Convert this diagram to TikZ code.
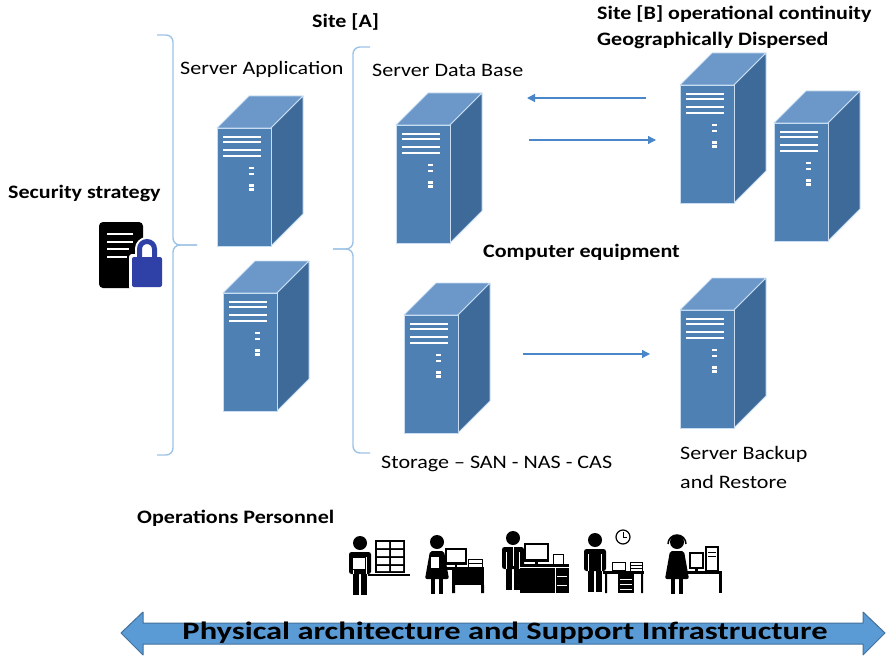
\documentclass[tikz,border=0pt]{standalone}
\usepackage{fontspec}
\setmainfont{Carlito}[FakeStretch=1.16]
\newfontfamily\bandfont{Carlito}[FakeStretch=1.3]
\usetikzlibrary{arrows.meta}
\definecolor{srvFront}{HTML}{4F80B4}
\definecolor{srvSide}{HTML}{3E6A99}
\definecolor{srvTop}{HTML}{6B98C9}
\definecolor{srvEdge}{HTML}{C8DDF1}
\definecolor{braceLine}{HTML}{9DC3E6}
\definecolor{flowLine}{HTML}{4A86C8}
\definecolor{lockBlue}{HTML}{2F40A6}
\definecolor{bandFill}{HTML}{5B9BD5}
\definecolor{bandLine}{HTML}{41719C}
\tikzset{
  archfig/.style={x=1pt, y=-1pt, >={Triangle[length=8pt,width=8pt]}},
  lbl/.style={font=\fontsize{19}{23}\selectfont, inner sep=0pt, anchor=base west},
  hdr/.style={lbl, font=\fontsize{19}{23}\selectfont\bfseries},
  grp/.style={draw=braceLine, line width=1.4pt, rounded corners=7pt},
  flow/.style={draw=flowLine, line width=1.2pt, ->},
  % Tower server, origin at the top left corner of the front face.
  server/.pic={
    \filldraw[fill=srvTop, draw=srvEdge, line width=0.8pt, line join=round]
      (0,0) -- (32,-32) -- (86,-32) -- (54,0) -- cycle;
    \filldraw[fill=srvSide, draw=srvEdge, line width=0.8pt, line join=round]
      (54,0) -- (86,-32) -- (86,86) -- (54,118) -- cycle;
    \filldraw[fill=srvFront, draw=srvEdge, line width=0.8pt] (0,0) rectangle (54,118);
    \draw[white, line width=1.3pt] (6,9) -- (44,9) (6,14) -- (44,14);
    \draw[white, line width=2pt] (6,22) -- (44,22) (6,28) -- (44,28);
    \draw[white, line width=1.3pt] (32,40) -- (37,40) (32,46) -- (37,46);
    \fill[white] (32,56) rectangle (37,63);
    \fill[srvFront] (32,59) rectangle (37,60);
  },
  % Pictogram people, origin at the centre of the head.
  man/.pic={
    \fill (0,0) circle (7);
    \fill[rounded corners=2.5pt] (-11,9) rectangle (11,31);
    \fill (-7,29) rectangle (-1,52);
    \fill (1,29) rectangle (7,52);
    \draw[white, line width=0.9pt] (-6.5,14) -- (-6.5,31) (6.5,14) -- (6.5,31);
  },
  woman/.pic={
    \fill (0,0) circle (7);
    \fill[rounded corners=2pt] (-7,9) -- (7,9) -- (12,37) -- (-12,37) -- cycle;
    \fill (-6,36) rectangle (-2,52);
    \fill (2,36) rectangle (6,52);
  },
}

\begin{document}
\begin{tikzpicture}[archfig]
  \useasboundingbox (0,0) rectangle (889,658);
  % headings and labels
  \node[hdr] (siteA) at (312,28) {Site [A]};
  \node[hdr] (siteB) at (597,20) {Site [B] operational continuity};
  \node[hdr] (siteBdisp) at (597,46) {Geographically Dispersed};
  \node[hdr] (secLbl) at (8,198) {Security strategy};
  \node[hdr] (equipLbl) at (483,257) {Computer equipment};
  \node[hdr] (staffLbl) at (137,523) {Operations Personnel};
  \node[lbl] (appLbl) at (180,75) {Server Application};
  \node[lbl] (dbLbl) at (372,77) {Server Data Base};
  \node[lbl] (storLbl) at (381,468) {Storage -- SAN - NAS - CAS};
  \node[lbl] (bkpLbl) at (680,459) {Server Backup};
  \node[lbl] (bkpLbl2) at (680,488) {and Restore};
  % servers
  \pic (appSrv1) at (217,128) {server};
  \pic (appSrv2) at (223,293) {server};
  \pic (dbSrv) at (396,125) {server};
  \pic (siteBSrv1) at (680,85) {server};
  \pic (siteBSrv2) at (774,123) {server};
  \pic (storSrv) at (404,315) {server};
  \pic (bkpSrv) at (680,310) {server};
  % braces
  \draw[grp] (157,35) -- (173,35) -- (173,245) -- (197,245);
  \draw[grp] (197,245) -- (173,245) -- (173,455) -- (157,455);
  \draw[grp] (370,47) -- (353,47) -- (353,249) -- (333,249);
  \draw[grp] (333,249) -- (353,249) -- (353,453) -- (370,453);
  % replication arrows
  \coordinate (dbIn) at (527,98);
  \coordinate (dbOut) at (529,140);
  \coordinate (siteBOut) at (646,98);
  \coordinate (siteBIn) at (656,140);
  \coordinate (storOut) at (523,354);
  \coordinate (bkpIn) at (650,354);
  \draw[flow] (siteBOut) -- (dbIn);
  \draw[flow] (dbOut) -- (siteBIn);
  \draw[flow] (storOut) -- (bkpIn);
  % document with padlock
  \fill[rounded corners=4pt] (99,222) rectangle (143,288);
  \draw[white, line width=2.2pt] (107,234) -- (133,234) (107,242) -- (133,242)
    (107,249) -- (129,249) (107,257) -- (127,257);
  \draw[white, line width=9pt] (139.5,258) -- (139.5,249) arc (180:360:7.5) -- (154.5,258);
  \fill[white, rounded corners=3pt] (129,254) rectangle (165,290);
  \draw[lockBlue, line width=5pt] (139.5,258) -- (139.5,249) arc (180:360:7.5) -- (154.5,258);
  \fill[lockBlue, rounded corners=2pt] (132,257) rectangle (162,287);
  % operations personnel
  \pic (clerk) at (360,543) {man};
  \filldraw[fill=white, line width=0.8pt] (352,557) rectangle (365,569);
  \fill (375,540) rectangle (405,573);
  \fill[white] (377,542) rectangle (389,548) (391,542) rectangle (403,548)
    (377,550) rectangle (389,556) (391,550) rectangle (403,556)
    (377,558) rectangle (389,564) (391,558) rectangle (403,564)
    (377,566) rectangle (389,571) (391,566) rectangle (403,571);
  \draw[line width=1.5pt] (368,575) -- (410,575);
  \pic (secretary) at (437,542) {woman};
  \filldraw[fill=white, line width=0.8pt] (430,556) rectangle (439,568);
  \fill (445,548) rectangle (467,565);
  \fill[white] (447,550) rectangle (465,562);
  \fill (455,565) rectangle (457,568);
  \fill (443,567) rectangle (484,570);
  \fill (452,570) rectangle (484,585);
  \fill (452,585) rectangle (455,593) (481,585) rectangle (484,593);
  \filldraw[fill=white, line width=0.8pt] (468,559) rectangle (482,567);
  \draw[line width=0.8pt] (468,563) -- (482,563);
  \pic (manager) at (513,538) {man};
  \draw[white, line width=1pt] (513,547) -- (513,566);
  \fill (524,543) rectangle (549,562);
  \fill[white] (526,545) rectangle (547,559);
  \fill (535,562) rectangle (538,565);
  \filldraw[fill=white, line width=0.8pt] (553,554) rectangle (563,564);
  \fill (520,564) rectangle (569,593);
  \draw[white, line width=0.8pt] (520,567) -- (569,567) (555,567) -- (555,593)
    (557,576) -- (567,576) (557,585) -- (567,585);
  \pic (officer) at (595,540) {man};
  \draw[line width=1.2pt] (623,537) circle (7);
  \draw[line width=1pt] (623,537) -- (623,532) (623,537) -- (627,537);
  \fill (603,571) rectangle (644,574);
  \fill (605,574) rectangle (607,593) (641,574) rectangle (643,593);
  \fill (618,574) rectangle (634,593);
  \draw[white, line width=0.8pt] (620,579) -- (632,579) (620,584) -- (632,584)
    (620,589) -- (632,589);
  \filldraw[fill=white, line width=1pt] (612,562) rectangle (625,570);
  \filldraw[fill=white, line width=0.8pt] (630,562) rectangle (642,571);
  \draw[line width=0.8pt] (630,565) -- (642,565) (630,568) -- (642,568);
  \pic (operator) at (677,542) {woman};
  \draw[line width=1.5pt] (668,544) arc (180:360:9);
  \fill (687,571) rectangle (722,574);
  \fill (719,574) rectangle (722,593);
  \filldraw[fill=white, line width=1.5pt] (690,553) rectangle (703,568);
  \fill (695,568) rectangle (698,571);
  \filldraw[fill=white, line width=1.5pt] (706,547) rectangle (718,571);
  \draw[line width=1pt] (708,552) -- (716,552) (708,556) -- (716,556);
  % support infrastructure band
  \filldraw[fill=bandFill, draw=bandLine, line width=1pt, line join=round]
    (121,633) -- (143,612) -- (143,623) -- (863,623) -- (863,612) -- (885,633)
    -- (863,655) -- (863,644) -- (143,644) -- (143,655) -- cycle;
  \node[font=\bandfont\fontsize{25}{29}\selectfont\bfseries, inner sep=0pt, anchor=base]
    (infraLbl) at (505,639) {Physical architecture and Support Infrastructure};
\end{tikzpicture}
\end{document}
